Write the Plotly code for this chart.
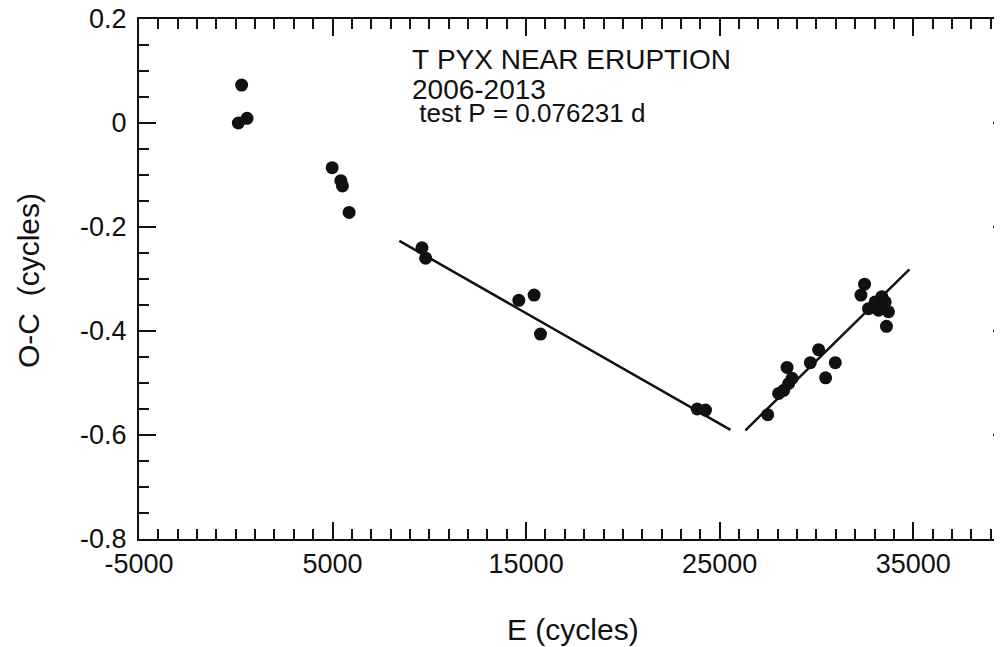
import plotly.graph_objects as go

# ---- data ----
E_cycles = [131, 302, 580, 4980, 5428, 5511, 5856,
            9621, 9811, 14623, 15413, 15742, 23839, 24268,
            27481, 28049, 28306, 28482, 28564, 28740, 29684, 30113, 30474, 30974,
            32299, 32485, 32689, 33034, 33205, 33380, 33551, 33721, 33618]
OC_cycles = [0.000, 0.073, 0.009, -0.086, -0.111, -0.121, -0.172,
             -0.240, -0.260, -0.341, -0.331, -0.406, -0.550, -0.552,
             -0.561, -0.520, -0.514, -0.470, -0.501, -0.491, -0.461, -0.436, -0.490, -0.461,
             -0.331, -0.310, -0.357, -0.344, -0.360, -0.334, -0.344, -0.363, -0.391]

fit1_E = [8450, 25557]
fit1_OC = [-0.2266, -0.590]
fit2_E = [26330, 34804]
fit2_OC = [-0.591, -0.2817]

x_range = [-5000, 40000]
y_range = [-0.8, 0.2]
x_tickvals = [-5000, 5000, 15000, 25000, 35000]
y_tickvals = [0.2, 0, -0.2, -0.4, -0.6, -0.8]
y_ticktext = ["0.2", "0", "-0.2", "-0.4", "-0.6", "-0.8"]

x_title = "E (cycles)"
y_title = "O-C  (cycles)"
title_lines = ["T PYX NEAR ERUPTION", "2006-2013", " test P = 0.076231 d"]

FONT = "Liberation Sans, Arial, Helvetica, sans-serif"
INK = "#111111"

# page body has an 8px default margin; screen coords = figure coords + 8
PL, PT, PW, PH = 139, 19, 871, 520  # plot area in screen pixels


def px(sx):
    return (sx - PL) / PW


def py(sy):
    return 1 - (sy - PT) / PH


fig = go.Figure()
fig.add_trace(go.Scatter(x=fit1_E, y=fit1_OC, mode="lines",
                         line=dict(color=INK, width=2.5), showlegend=False))
fig.add_trace(go.Scatter(x=fit2_E, y=fit2_OC, mode="lines",
                         line=dict(color=INK, width=2.5), showlegend=False))
fig.add_trace(go.Scatter(x=E_cycles, y=OC_cycles, mode="markers",
                         marker=dict(color=INK, size=13, line=dict(width=0)),
                         showlegend=False))

axis_common = dict(
    showgrid=False, zeroline=False, showline=True, linecolor=INK, linewidth=2,
    mirror="ticks", ticks="inside", ticklen=17, tickwidth=2, tickcolor=INK,
    tickfont=dict(family=FONT, size=27, color=INK), automargin=False,
    ticklabeloverflow="allow",
)

fig.update_xaxes(
    range=x_range, tickvals=x_tickvals, ticktext=[str(v) for v in x_tickvals],
    minor=dict(dtick=1000, tick0=-5000, ticks="inside", ticklen=10, tickwidth=2, tickcolor=INK),
    **axis_common,
)
fig.update_yaxes(
    range=y_range, tickvals=y_tickvals, ticktext=y_ticktext, ticklabelstandoff=5,
    minor=dict(dtick=0.05, tick0=0, ticks="inside", ticklen=10, tickwidth=2, tickcolor=INK),
    **axis_common,
)

fig.add_annotation(text=x_title, xref="paper", yref="paper", x=px(573), y=py(629),
                   xanchor="center", yanchor="middle", showarrow=False,
                   font=dict(family=FONT, size=30, color=INK))
fig.add_annotation(text=y_title.replace(" ", "\u00a0"), xref="paper", yref="paper",
                   x=px(28), y=py(281), textangle=-90,
                   xanchor="center", yanchor="middle", showarrow=False,
                   font=dict(family=FONT, size=30, color=INK))

ann_y = [60, 90, 113]
ann_size = [28, 28, 26]
for txt, yy, sz in zip(title_lines, ann_y, ann_size):
    fig.add_annotation(text=txt.replace(" ", "\u00a0"), xref="paper", yref="paper",
                       x=px(410), y=py(yy),
                       xanchor="left", yanchor="middle", showarrow=False,
                       font=dict(family=FONT, size=sz, color=INK))

fig.update_layout(
    width=1002, height=647, autosize=False,
    margin=dict(l=131, r=0, t=11, b=116),
    plot_bgcolor="white", paper_bgcolor="white",
)

fig.write_html("out.html")
